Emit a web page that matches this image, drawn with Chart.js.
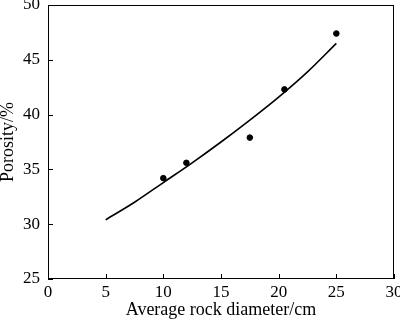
<!DOCTYPE html>
<html>
<head>
<meta charset="utf-8">
<script src="https://cdn.jsdelivr.net/npm/chart.js@4/dist/chart.umd.min.js"></script>
<style>
  html, body { margin: 0; padding: 0; background: #fff; }
  #wrap { width: 400px; height: 322px; }
</style>
</head>
<body>
<div id="wrap"><canvas id="grafico"></canvas></div>
<script>
// measured points
var diametro = [10, 12, 17.5, 20.5, 25];
var porosidade = [34.2, 35.6, 37.9, 42.3, 47.4];

// fitted curve
var curvaX = [5, 7.5, 10, 12.5, 15, 17.5, 20, 22.5, 25];
var curvaY = [30.4, 32.0, 33.8, 35.6, 37.5, 39.5, 41.6, 43.9, 46.5];

var ticksX = [0, 5, 10, 15, 20, 25, 30];
var ticksY = [25, 30, 35, 40, 45, 50];

var serif = "'Liberation Serif', 'Times New Roman', serif";

// ticks para dentro + moldura
var molduraPlugin = {
    id: 'moldura',
    afterDraw: function (chart) {
        var ctx = chart.ctx;
        var a = chart.chartArea;
        var sx = chart.scales.x, sy = chart.scales.y;
        ctx.save();
        ctx.strokeStyle = '#000';
        ctx.lineWidth = 1;
        ctx.strokeRect(a.left + 0.5, a.top + 0.5, a.right - a.left - 1, a.bottom - a.top - 1);
        ctx.beginPath();
        ticksX.forEach(function (v) {
            var px = Math.round(sx.getPixelForValue(v)) + 0.5;
            ctx.moveTo(px, a.bottom);
            ctx.lineTo(px, a.bottom - 5);
        });
        ticksY.forEach(function (v) {
            var py = Math.round(sy.getPixelForValue(v)) + 0.5;
            ctx.moveTo(a.left, py);
            ctx.lineTo(a.left + 5, py);
        });
        ctx.stroke();
        ctx.restore();
    }
};

var ctx = document.getElementById('grafico').getContext('2d');

var grafico = new Chart(ctx, {
    type: 'scatter',
    data: {
        datasets: [{
            label: 'Fit',
            data: curvaX.map(function (x, i) { return { x: x, y: curvaY[i] }; }),
            showLine: true,
            borderColor: '#000',
            borderWidth: 1.6,
            pointRadius: 0,
            tension: 0.4,
            cubicInterpolationMode: 'monotone'
        }, {
            label: 'Measured',
            data: diametro.map(function (x, i) { return { x: x, y: porosidade[i] }; }),
            backgroundColor: '#000',
            borderColor: '#000',
            pointRadius: 2.8,
            showLine: false
        }]
    },
    options: {
        responsive: true,
        maintainAspectRatio: false,
        animation: false,
        layout: { padding: { left: 0, right: 6, top: 3, bottom: 0 } },
        plugins: {
            legend: { display: false },
            tooltip: { enabled: false }
        },
        scales: {
            x: {
                type: 'linear',
                min: 0, max: 30,
                afterBuildTicks: function (s) { s.ticks = ticksX.map(function (v) { return { value: v }; }); },
                grid: { display: false, drawTicks: false },
                border: { display: false },
                ticks: { color: '#000', font: { family: serif, size: 17 }, padding: 3, maxRotation: 0 },
                title: { display: true, text: 'Average rock diameter/cm', color: '#000', font: { family: serif, size: 18 }, padding: { top: 0, bottom: 1 } },
                afterFit: function (s) { s.height = 43; s.paddingLeft = 0; s.paddingRight = 0; }
            },
            y: {
                type: 'linear',
                min: 25, max: 50,
                afterBuildTicks: function (s) { s.ticks = ticksY.map(function (v) { return { value: v }; }); },
                grid: { display: false, drawTicks: false },
                border: { display: false },
                ticks: { color: '#000', font: { family: serif, size: 17 }, padding: 8 },
                title: { display: true, text: 'Porosity/%', color: '#000', font: { family: serif, size: 18 }, padding: { top: -3, bottom: 0 } },
                afterFit: function (s) { s.width = 48; s.paddingTop = 0; s.paddingBottom = 0; }
            }
        }
    },
    plugins: [molduraPlugin]
});
</script>
</body>
</html>
